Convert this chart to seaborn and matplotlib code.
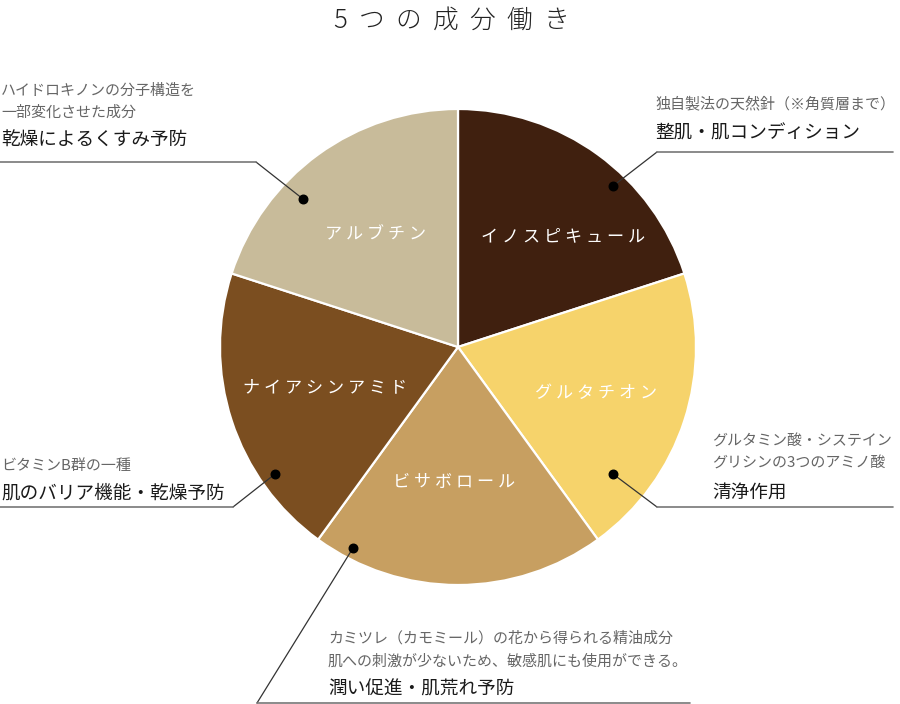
import matplotlib
matplotlib.use("Agg")
import matplotlib.pyplot as plt
import seaborn as sns

# ---- data ----
categories = ["イノスピキュール", "グルタチオン", "ビサボロール", "ナイアシンアミド", "アルブチン"]
shares = [1, 1, 1, 1, 1]
colors = ["#40200f", "#f6d36b", "#c79f61", "#7b4e20", "#c8bb9a"]
notes = [
    ["独自製法の天然針（※角質層まで）"],
    ["グルタミン酸・システイン", "グリシンの3つのアミノ酸"],
    ["カミツレ（カモミール）の花から得られる精油成分", "肌への刺激が少ないため、敏感肌にも使用ができる。"],
    ["ビタミンB群の一種"],
    ["ハイドロキノンの分子構造を", "一部変化させた成分"],
]
effects = ["整肌・肌コンディション", "清浄作用", "潤い促進・肌荒れ予防", "肌のバリア機能・乾燥予防", "乾燥によるくすみ予防"]
title = "5つの成分働き"

sns.set_theme(style="white")
plt.rcParams["font.family"] = ["Noto Sans CJK JP", "DejaVu Sans"]

W, H = 900, 704
fig = plt.figure(figsize=(W / 100, H / 100), dpi=100)
ax = fig.add_axes([0, 0, 1, 1])

def Y(y):
    return H - y

cx, cy, R = 458, 347, 238
ax.pie(shares, colors=colors, startangle=90, counterclock=False,
       center=(cx, Y(cy)), radius=R,
       wedgeprops=dict(edgecolor="white", linewidth=1.6))
ax.set_xlim(0, W)
ax.set_ylim(0, H)
ax.set_aspect("equal")
ax.axis("off")

# slice labels (image coords)
label_pos = [(563, 236), (596, 393), (454, 482), (325, 387), (376, 234)]
for name, (x, y) in zip(categories, label_pos):
    ax.text(x, Y(y), " ".join(name), color="white", fontsize=12.3,
            ha="center", va="center")

# leader lines: dot, elbow, horizontal end
dots = [(613, 186), (613, 474), (353, 548), (275, 474), (303, 199)]
elbows = [(657, 152), (657, 507), (257, 703), (233, 507), (256, 162)]
ends = [893, 893, 690, 0, 0]
for (dx, dy), (ex, ey), hx in zip(dots, elbows, ends):
    ax.plot([dx, ex], [Y(dy), Y(ey)], color="#333333", lw=0.9, zorder=3)
    ax.plot([ex, hx], [Y(ey), Y(ey)], color="#777777", lw=1.2, zorder=3)
    ax.scatter([dx], [Y(dy)], s=38, color="black", zorder=4)

# annotation texts
text_x = [655, 712, 328, 1, 1]
note_y = [[104], [441, 463], [638, 661], [466], [91, 113]]
effect_y = [134, 493, 690, 494, 141]
for lines, ly, eff, ey, tx in zip(notes, note_y, effects, effect_y, text_x):
    for line, yy in zip(lines, ly):
        ax.text(tx, Y(yy), line, color="#666666", fontsize=10.8,
                ha="left", va="center")
    ax.text(tx, Y(ey), eff, color="#1a1a1a", fontsize=13.4,
            ha="left", va="center")

# title
ax.text(452, Y(20), "  ".join(title), color="#222222", fontsize=18.5,
        ha="center", va="center", fontweight="light")

fig.savefig("out.png", dpi=100)
